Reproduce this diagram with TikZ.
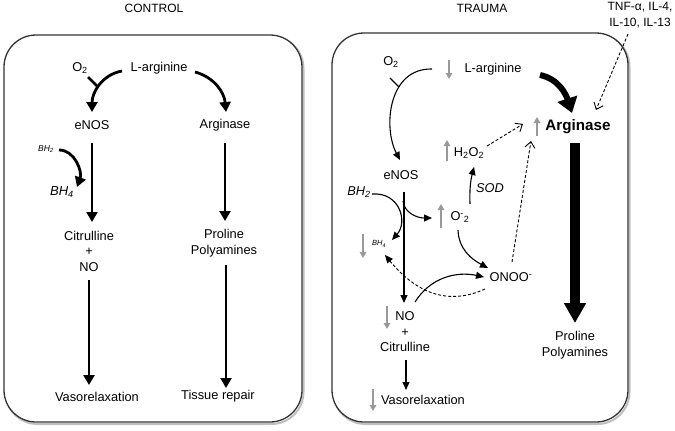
\documentclass[tikz,border=0pt]{standalone}
\usepackage{fontspec}
\setmainfont{Liberation Sans}
\usetikzlibrary{arrows.meta}
\newcommand\mfs{\fontsize{12.8}{15.5}\selectfont}
\begin{document}
\begin{tikzpicture}[x=1pt,y=1pt,
  t/.style={font=\mfs, inner sep=0pt},
  ml/.style={font=\mfs, inner sep=0pt, align=center},
  ttl/.style={font=\fontsize{12}{16.5}\selectfont, inner sep=0pt, align=center},
  panel/.style={draw=black!80, line width=1.3pt, rounded corners=32pt, fill=white},
  shadow/.style={draw=black!25, line width=2pt, rounded corners=32pt},
  tk/.style={line width=2.8pt, -{Triangle[width=11pt,length=10pt]}},
  tn/.style={line width=1.1pt, -{Triangle[width=7pt,length=8pt]}},
  dsh/.style={line width=0.9pt, dashed, dash pattern=on 3pt off 2pt, -{Straight Barb[width=10pt,length=6pt]}},
  gr/.style={draw=black!40, line width=2pt, -{Triangle[width=6.5pt,length=6pt]}},
]
\useasboundingbox (0,0) rectangle (675,-431);
% panels
\draw[shadow] (5.5,-36.5) rectangle (303.5,-424);
\draw[panel] (4,-35) rectangle (302,-422);
\draw[shadow] (333.5,-34.5) rectangle (629.5,-424);
\draw[panel] (332,-33) rectangle (628,-422);

% titles
\node[ttl] (tc) at (154,-8) {CONTROL};
\node[ttl] (tt) at (482,-8) {TRAUMA};
\node[ttl] (rTNF) at (640,-15) {TNF-α, IL-4,\\IL-10, IL-13};

% ===== CONTROL =====
\node[t] (cO2) at (80,-68) {O\textsubscript{2}};
\node[t] (cLarg) at (159,-68) {L-arginine};
\node[t] (ceNOS) at (92,-125) {eNOS};
\node[t] (cArg) at (225,-125) {Arginase};
\node[t, font=\fontsize{8.5}{10}\selectfont\itshape] (cBH2) at (46,-149) {BH\textsubscript{2}};
\node[t, font=\fontsize{13}{15}\selectfont\itshape] (cBH4) at (62,-192) {BH\textsubscript{4}};
\node[ml] (cCit) at (89,-251) {Citrulline\\+\\NO};
\node[ml] (cPro) at (224,-243) {Proline\\Polyamines};
\node[t] (cVaso) at (97,-397) {Vasorelaxation};
\node[t] (cTis) at (218,-396) {Tissue repair};

\draw[tk] ([shift={(-37,-3)}]cLarg.center) to[out=190,in=90] ([shift={(0,13)}]ceNOS.center);
\draw[line width=2.8pt] ([shift={(8,-9)}]cO2.center) -- ([shift={(18,-19)}]cO2.center);
\draw[tk] ([shift={(36,-4)}]cLarg.center) to[out=-15,in=95] ([shift={(1,13)}]cArg.center);
\draw[tk] ([shift={(0,-18)}]ceNOS.center) -- ([shift={(3,29)}]cCit.center);
\draw[tk] ([shift={(13,-1)}]cBH2.center) to[out=0,in=70] ([shift={(15,5)}]cBH4.center);
\draw[tk] ([shift={(0,-18)}]cArg.center) -- ([shift={(1,22)}]cPro.center);
\draw[tk] ([shift={(0,-29)}]cCit.center) -- ([shift={(-8,12)}]cVaso.center);
\draw[tk] ([shift={(2,-22)}]cPro.center) -- ([shift={(8,8)}]cTis.center);

% ===== TRAUMA =====
\node[t] (rO2) at (391,-62) {O\textsubscript{2}};
\node[t] (rLarg) at (493,-69) {L-arginine};
\node[t, font=\fontsize{15.2}{17}\selectfont\bfseries] (rArg) at (578,-127) {Arginase};
\node[t] (rH2O2) at (469,-153) {H\textsubscript{2}O\textsubscript{2}};
\node[t, font=\mfs\itshape] (rSOD) at (490,-188) {SOD};
\node[t] (reNOS) at (401,-175) {eNOS};
\node[t, font=\mfs\itshape] (rBH2) at (359,-192) {BH\textsubscript{2}};
\node[t] (rO2m) at (460,-217) {O\textsuperscript{-}\textsubscript{2}};
\node[t, font=\fontsize{7.5}{9}\selectfont\itshape] (rBH4) at (379,-244) {BH\textsubscript{4}};
\node[t] (rONOO) at (511,-277) {ONOO\textsuperscript{-}};
\node[ml] (rNO) at (405,-332) {NO\\+\\Citrulline};
\node[ml] (rPro) at (575,-345) {Proline\\Polyamines};
\node[t] (rVaso) at (423,-400) {Vasorelaxation};

% L-arginine -> eNOS
\draw[tn] ([shift={(-61,0)}]rLarg.center) .. controls (388,-68) and (383,-128) .. ([shift={(-1,15)}]reNOS.center);
\draw[line width=1.1pt] ([shift={(-1,-16)}]rO2.center) -- ([shift={(8,-25)}]rO2.center);
% L-arginine -> Arginase (thick)
\draw[line width=6pt, -{Triangle[width=20pt,length=15pt]}] ([shift={(47,-6)}]rLarg.center) to[out=-12,in=108] ([shift={(-6,14)}]rArg.center);
% Arginase -> Proline (very thick)
\draw[line width=10pt, -{Triangle[width=21pt,length=20pt]}] ([shift={(-3,-16)}]rArg.center) -- ([shift={(0,22)}]rPro.center);
% dashed inputs to Arginase
\draw[dsh] ([shift={(-12,-19)}]rTNF.center) -- ([shift={(18,17)}]rArg.center);
\draw[dsh] ([shift={(18,7)}]rH2O2.center) -- ([shift={(-55,3)}]rArg.center);
\draw[dsh] ([shift={(1,15)}]rONOO.center) -- ([shift={(-47,-14)}]rArg.center);
% eNOS -> NO
\draw[tn] ([shift={(3,-17)}]reNOS.center) -- ([shift={(-1,29)}]rNO.center);
% BH2 -> BH4
\draw[tn] ([shift={(13,-2)}]rBH2.center) .. controls (400,-192) and (408,-222) .. ([shift={(13,4)}]rBH4.center);
% eNOS line -> O2-
\draw[tn] ([shift={(2,-26)}]reNOS.center) .. controls (404,-212) and (416,-218) .. ([shift={(-28,-1)}]rO2m.center);
% O2- -> H2O2 (SOD)
\draw[tn] ([shift={(10,13)}]rO2m.center) to[bend left=8] ([shift={(5,-14)}]rH2O2.center);
% O2- -> ONOO-
\draw[tn] ([shift={(-2,-13)}]rO2m.center) to[out=-88,in=152] ([shift={(-23,9)}]rONOO.center);
% NO -> ONOO-
\draw[tn] ([shift={(10,30)}]rNO.center) to[out=58,in=168] ([shift={(-27,0)}]rONOO.center);
% ONOO- -> BH4 (dashed)
\draw[line width=0.9pt, dashed, dash pattern=on 3pt off 2pt, -{Triangle[width=7pt,length=8pt]}] ([shift={(-26,-12)}]rONOO.center) .. controls (450,-305) and (418,-295) .. ([shift={(6,-11)}]rBH4.center);
% Citrulline -> Vasorelaxation
\draw[tn] ([shift={(1,-28)}]rNO.center) -- ([shift={(-17,10)}]rVaso.center);

% grey trend arrows
\draw[gr] (449,-60) -- (449,-79);
\draw[gr] (537,-136) -- (537,-117);
\draw[gr] (447,-161) -- (447,-140);
\draw[gr] (441,-228) -- (441,-204);
\draw[gr] (363,-234) -- (363,-258);
\draw[gr] (387,-306) -- (387,-329);
\draw[gr] (373,-389) -- (373,-411);
\end{tikzpicture}
\end{document}
